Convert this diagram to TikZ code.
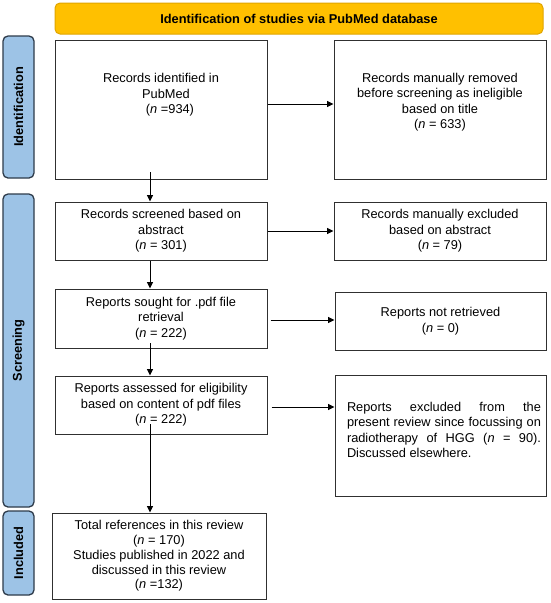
\documentclass[tikz,border=0pt]{standalone}
\usepackage{fontspec}
\setmainfont{Liberation Sans}
\usetikzlibrary{arrows.meta}
\definecolor{bannerfill}{HTML}{FFC000}
\definecolor{bannerdraw}{HTML}{E0A500}
\definecolor{sidefill}{HTML}{9DC3E6}
\definecolor{sidedraw}{HTML}{2E3B4A}
\definecolor{boxdraw}{HTML}{303030}
\begin{document}
\begin{tikzpicture}[x=1pt,y=-1pt,
  txt/.style={font=\fontsize{12.8}{15.5}\selectfont, align=center, inner sep=0pt},
  box/.style={draw=boxdraw, line width=1pt, rectangle, inner sep=0pt, txt},
  side/.style={draw=sidedraw, fill=sidefill, line width=1.3pt, rounded corners=5pt, inner sep=0pt},
  sidetxt/.style={font=\fontsize{12.8}{15}\selectfont\bfseries, rotate=90, inner sep=0pt},
  arr/.style={-{Triangle[length=6.5pt,width=6pt]}, line width=1pt, black}]
\useasboundingbox (0,0) rectangle (550,603);
\fill[white] (0,0) rectangle (550,603);

% banner
\node[draw=bannerdraw, fill=bannerfill, line width=1pt, rounded corners=5pt,
      minimum width=488pt, minimum height=31pt, inner sep=0pt,
      font=\fontsize{12.8}{15}\selectfont\bfseries] (ban) at (299,18.5)
      {Identification of studies via PubMed database};

% side labels
\node[side, minimum width=31pt, minimum height=142pt] (sid1) at (18.5,107) {};
\node[sidetxt] (sidt1) at (sid1.center) {Identification};
\node[side, minimum width=31pt, minimum height=313pt] (sid2) at (18.5,350.5) {};
\node[sidetxt] (sidt2) at (sid2.center) {Screening};
\node[side, minimum width=31pt, minimum height=84pt] (sid3) at (18.5,553) {};
\node[sidetxt] (sidt3) at (sid3.center) {Included};

% boxes
\node[box, minimum width=212pt, minimum height=139pt] (b1) at (161,109.5) {};
\node[txt] (t1) at (161,95) {Records identified in\\ \hspace*{10pt}PubMed\\ \hspace*{18pt}(\textit{n} =934)};
\node[box, minimum width=212pt, minimum height=139pt] (r1) at (440,109.5) {};
\node[txt] (tr1) at (440,102) {Records manually removed\\before screening as ineligible\\based on title\\(\textit{n} = 633)};

\node[box, minimum width=212pt, minimum height=58pt] (b2) at (161,231)
  {Records screened based on\\abstract\\(\textit{n} = 301)};
\node[box, minimum width=212pt, minimum height=58pt] (r2) at (440,231)
  {Records manually excluded\\based on abstract\\(\textit{n} = 79)};

\node[box, minimum width=212pt, minimum height=59pt] (b3) at (161,318.5)
  {Reports sought for .pdf file\\retrieval\\(\textit{n} = 222)};
\node[box, minimum width=211pt, minimum height=58pt] (r3) at (440.5,321)
  {Reports not retrieved\\(\textit{n} = 0)};

\node[box, minimum width=212pt, minimum height=58pt] (b4) at (161,405)
  {Reports assessed for eligibility\\based on content of pdf files\\(\textit{n} = 222)};
\node[box, minimum width=211pt, minimum height=121pt] (r4) at (440.5,435.5) {};
\node[txt, align=justify, text width=194pt] (tr4) at (444,430)
  {Reports excluded from the\linebreak present review since focussing on\linebreak radiotherapy of HGG (\textit{n} = 90).\linebreak Discussed elsewhere.};

\node[box, minimum width=214pt, minimum height=86pt, font=\fontsize{12.8}{14.8}\selectfont] (b5) at (159,556)
  {Total references in this review\\(\textit{n} = 170)\\Studies published in 2022 and\\discussed in this review\\(\textit{n} =132)};

% horizontal arrows
\draw[arr] ([yshift=5.5pt]b1.east) -- ([yshift=5.5pt]r1.west);
\draw[arr] (b2.east) -- (r2.west);
\draw[arr] ([xshift=3pt,yshift=-1.5pt]b3.east) -- ([yshift=1pt]r3.west);
\draw[arr] ([xshift=4pt,yshift=-2pt]b4.east) -- ([yshift=28.5pt]r4.west);

% vertical arrows
\coordinate (s1) at (150,172);
\draw[arr] (s1) -- (s1 |- b2.north);
\draw[arr] ([xshift=-11pt]b2.south) -- ([xshift=-11pt]b3.north);
\coordinate (s3) at (150,343);
\draw[arr] (s3) -- (s3 |- b4.north);
\coordinate (s4) at (150,424);
\draw[arr] (s4) -- (s4 |- b5.north);
\end{tikzpicture}
\end{document}
